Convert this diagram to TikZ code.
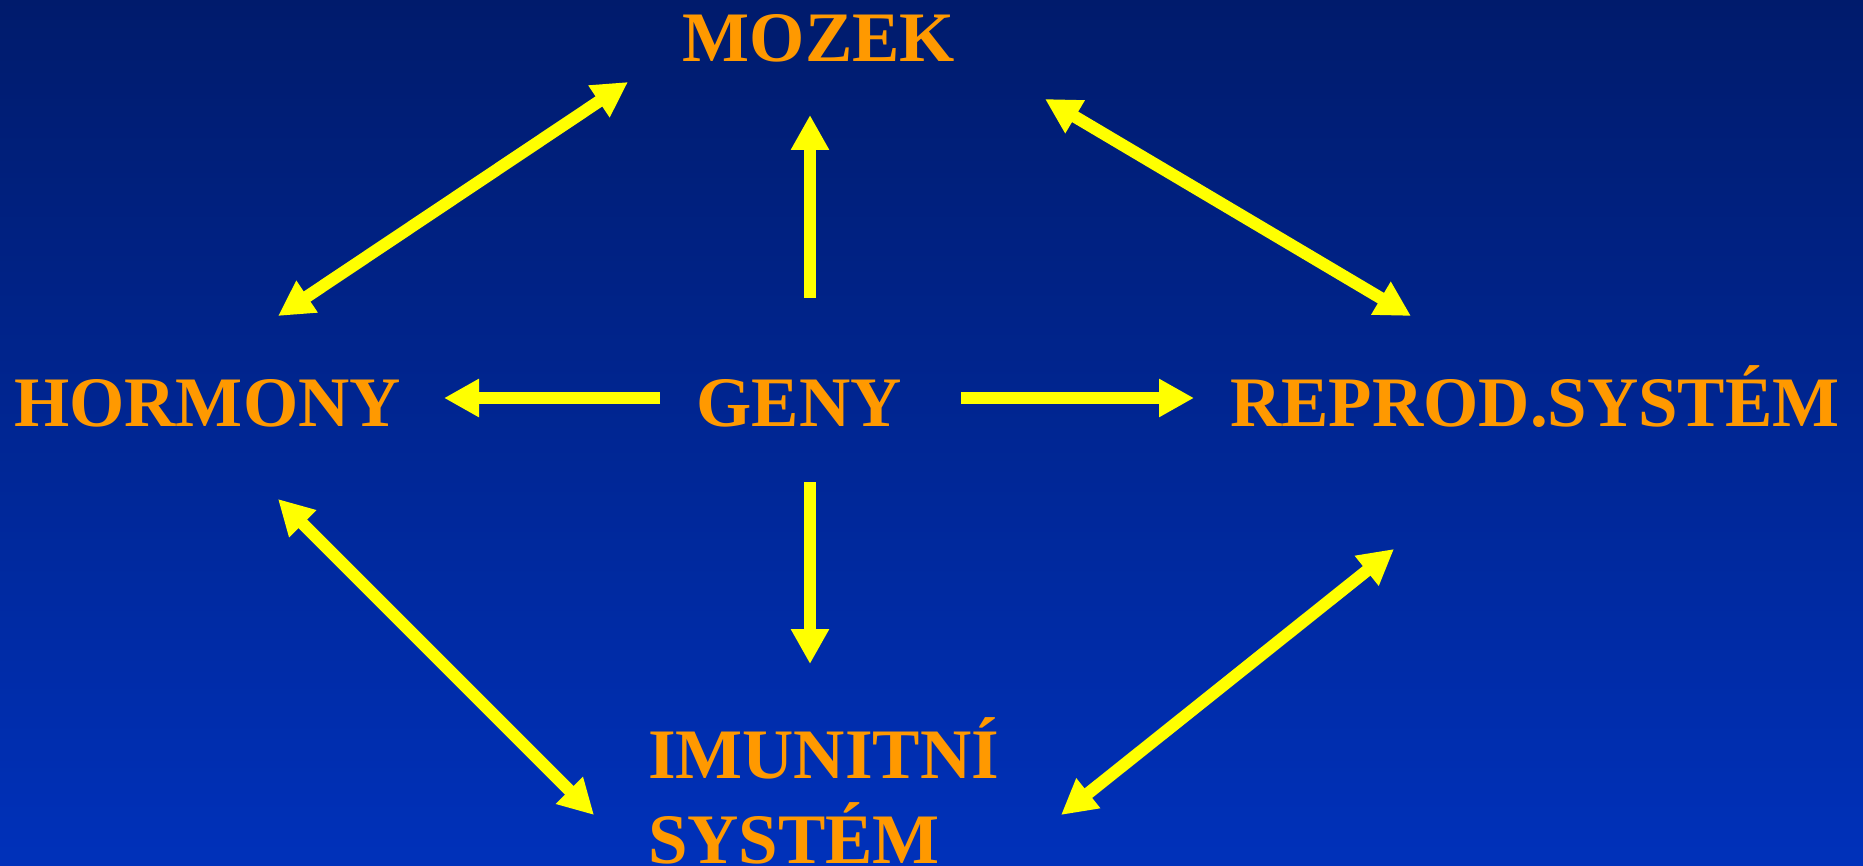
\documentclass[tikz,border=0pt]{standalone}
\usepackage{fontspec}
\setmainfont{Liberation Serif}
\usetikzlibrary{arrows.meta}
\definecolor{bgtop}{HTML}{001B6C}
\definecolor{bgbot}{HTML}{0031BA}
\definecolor{labelorange}{HTML}{FF9900}
\definecolor{arrowyellow}{HTML}{FFFF00}
\tikzset{
  label/.style={text=labelorange, font=\bfseries\fontsize{71}{85}\selectfont, inner sep=0pt, outer sep=0pt},
  conn/.style={draw=arrowyellow, line width=12.2pt, line cap=butt},
  tipone/.style={-{Triangle[length=35pt,width=36pt]}},
  tiptwo/.style={{Triangle[length=35pt,width=36pt]}-{Triangle[length=35pt,width=36pt]}}
}
\begin{document}
\begin{tikzpicture}[x=1pt,y=-1pt]
\useasboundingbox (0,0) rectangle (1863,866);
\shade[top color=bgtop, bottom color=bgbot] (0,0) rectangle (1863,866);
% labels
\node[label, anchor=base] (mozek) at (819,62) {MOZEK};
\node[label, anchor=base] (hormony) at (207.5,426) {HORMONY};
\node[label, anchor=base] (geny) at (799,426) {GENY};
\node[label, anchor=base] (repro) at (1535,426) {REPROD.SYSTÉM};
\node[label, anchor=base west, align=left] (imun) at (648,863) {IMUNITNÍ\\SYSTÉM};
% connector end points
\coordinate (gu1) at (810,298);  \coordinate (gu2) at (810,115);
\coordinate (gd1) at (810,482);  \coordinate (gd2) at (810,664);
\coordinate (gl1) at (660,398);  \coordinate (gl2) at (444,398);
\coordinate (gr1) at (961,398);  \coordinate (gr2) at (1194,398);
\coordinate (hm1) at (278,316);  \coordinate (hm2) at (628,82);
\coordinate (mr1) at (1045,99);  \coordinate (mr2) at (1411,316);
\coordinate (hi1) at (278,499);  \coordinate (hi2) at (594,815);
\coordinate (ri1) at (1394,549); \coordinate (ri2) at (1061,815);
% connectors
\draw[conn, tipone] (gu1) -- (gu2);
\draw[conn, tipone] (gd1) -- (gd2);
\draw[conn, tipone] (gl1) -- (gl2);
\draw[conn, tipone] (gr1) -- (gr2);
\draw[conn, tiptwo] (hm1) -- (hm2);
\draw[conn, tiptwo] (mr1) -- (mr2);
\draw[conn, tiptwo] (hi1) -- (hi2);
\draw[conn, tiptwo] (ri1) -- (ri2);
\end{tikzpicture}
\end{document}
